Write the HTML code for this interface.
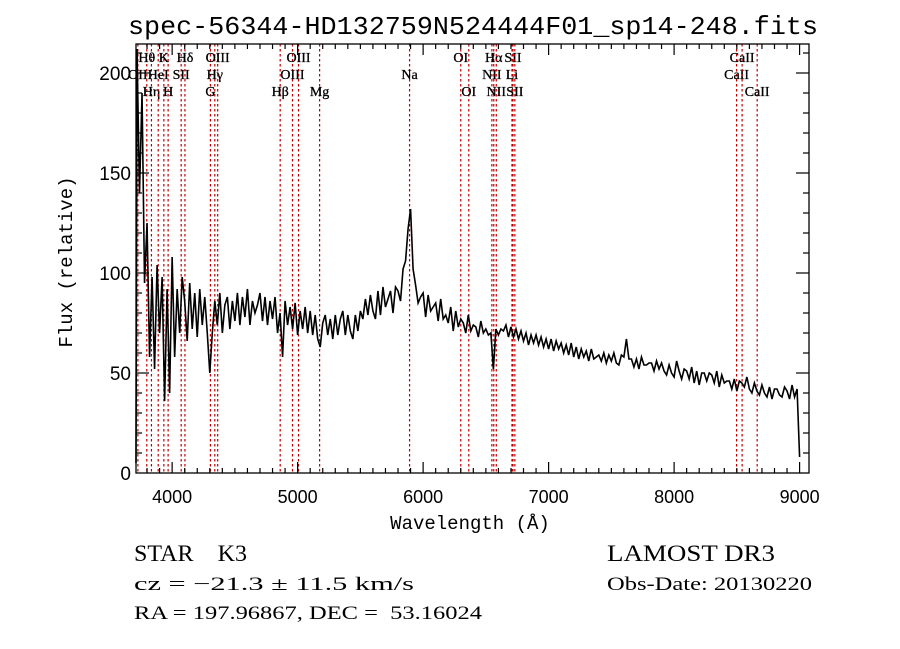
<!DOCTYPE html>
<html><head><meta charset="utf-8"><style>
html,body{margin:0;padding:0;background:#fff;}
svg{display:block;}
</style></head><body>
<svg id="chart" width="900" height="649" viewBox="0 0 900 649" xmlns="http://www.w3.org/2000/svg">
<rect width="900" height="649" fill="#fff"/>
<text x="128" y="34" font-family="Liberation Mono, monospace" font-size="26" textLength="690" lengthAdjust="spacingAndGlyphs">spec-56344-HD132759N524444F01_sp14-248.fits</text>
<g id="lines"></g>
<g id="series"></g>
<g id="axes"></g>
<text x="470" y="529" text-anchor="middle" font-family="Liberation Mono, monospace" font-size="19">Wavelength (Å)</text>
<text transform="translate(72,262) rotate(-90)" text-anchor="middle" font-family="Liberation Mono, monospace" font-size="19">Flux (relative)</text>
<text x="134" y="561" font-family="Liberation Serif, serif" font-size="23" textLength="113" lengthAdjust="spacingAndGlyphs" xml:space="preserve">STAR    K3</text>
<text x="134" y="590" font-family="Liberation Serif, serif" font-size="19" textLength="280" lengthAdjust="spacingAndGlyphs">cz = −21.3 ± 11.5 km/s</text>
<text x="134" y="619" font-family="Liberation Serif, serif" font-size="19" textLength="348" lengthAdjust="spacingAndGlyphs" xml:space="preserve">RA = 197.96867, DEC =  53.16024</text>
<text x="607" y="561" font-family="Liberation Serif, serif" font-size="23" textLength="168" lengthAdjust="spacingAndGlyphs">LAMOST DR3</text>
<text x="607" y="590" font-family="Liberation Serif, serif" font-size="19" textLength="205" lengthAdjust="spacingAndGlyphs">Obs-Date: 20130220</text>
</svg>
<script>
const wlStart = 3700;
const wlStep = 20;
const flux = [
5,212,140,190,95,125,58,98,52,104,
70,98,36,92,40,108,58,92,70,98,
86,66,95,72,90,68,92,74,88,70,
50,70,86,74,90,70,84,88,72,86,
76,90,74,88,78,92,74,86,80,84,
90,76,88,74,86,77,88,70,80,58,
86,74,83,72,85,69,81,72,83,70,
81,69,79,67,63,75,79,69,77,67,
79,69,77,81,69,79,71,67,79,71,
81,77,87,79,89,81,77,91,79,93,
83,87,91,80,93,91,86,102,106,122,
132,102,94,85,88,90,78,89,81,83,
85,76,87,77,79,75,83,71,81,73,
77,75,70,79,71,74,73,68,76,70,
72,69,70,52,72,69,72,71,74,68,
73,68,72,67,71,66,70,64,69,65,
69,64,68,63,67,62,67,61,66,62,
65,60,64,59,65,58,63,57,62,58,
61,56,62,57,58,59,56,60,55,59,
56,60,55,54,59,58,67,57,57,53,
57,52,58,54,54,55,55,51,56,52,
55,51,49,54,50,48,56,51,47,52,
51,47,53,45,51,44,50,50,46,50,
49,45,51,43,49,45,46,46,42,47,
41,46,45,43,48,42,40,45,41,39,
44,40,38,43,37,42,42,39,38,43,
41,37,44,38,42,8
];
const lineWaves = [3727,3798,3835,3889,3934,3968,4072,4102,4305,4340,4363,4861,4959,5007,5175,5892,6300,6364,6548,6563,6583,6708,6716,6731,8498,8542,8662];
const lineNames = ["OII","Hθ","Hη","HeI","K","H","SII","Hδ","G","Hγ","OIII","Hβ","OIII","OIII","Mg","Na","OI","OI","NII","Hα","NII","Li","SII","SII","CaII","CaII","CaII"];
const lineRows = [2,1,3,2,1,3,2,1,3,2,1,3,2,1,3,2,1,3,2,1,3,2,1,3,2,1,3];
const xTicks = [4000,5000,6000,7000,8000,9000];
const yTicks = [0,50,100,150,200];

const NS = "http://www.w3.org/2000/svg";
const L = 136, R = 809, T = 44, B = 473;
const xMin = 3712, xMax = 9075, yMin = 0, yMax = 214.5;
function xs(w){ return L + (w - xMin) / (xMax - xMin) * (R - L); }
function ys(v){ return B - (v - yMin) / (yMax - yMin) * (B - T); }
function mk(tag, attrs, parent){
  const e = document.createElementNS(NS, tag);
  for (const k in attrs) e.setAttribute(k, attrs[k]);
  parent.appendChild(e); return e;
}
const gL = document.getElementById('lines');
const gS = document.getElementById('series');
const gA = document.getElementById('axes');

const rowY = {1:62, 2:79, 3:96};
lineWaves.forEach((w, i) => {
  const x = xs(w);
  const ln = mk('line', {x1:x, x2:x, y1:T, y2:B, stroke:'#c00000', 'stroke-width':1.2, 'stroke-dasharray':'2.5,2.5'}, gL);
  
  
  const t = mk('text', {x:x, y:rowY[lineRows[i]], 'text-anchor':'middle', 'font-family':'Liberation Serif, serif', 'font-size':14, 'stroke':'#000', 'stroke-width':0.3}, gL);
  t.textContent = lineNames[i];
  
  
});

let d = '';
flux.forEach((f, i) => {
  const w = wlStart + i * wlStep;
  const x = Math.max(L, xs(w)), y = Math.max(T, ys(f));
  d += (i ? 'L' : 'M') + x.toFixed(2) + ',' + y.toFixed(2);
});
const p = mk('path', {d:d, fill:'none', stroke:'#000', 'stroke-width':1.6, 'stroke-linejoin':'miter'}, gS);



const fr = mk('rect', {x:L, y:T, width:R-L, height:B-T, fill:'none', stroke:'#000', 'stroke-width':1.3}, gA);



for (let w = 3800; w <= xMax; w += 100) {
  const x = xs(w), major = (w % 1000 === 0), len = major ? 11 : 5;
  mk('line', {x1:x, x2:x, y1:B, y2:B-len, stroke:'#000', 'stroke-width':1.2}, gA);
  mk('line', {x1:x, x2:x, y1:T, y2:T+len, stroke:'#000', 'stroke-width':1.2}, gA);
}
xTicks.forEach(w => {
  const t = mk('text', {x:xs(w), y:503, 'text-anchor':'middle', 'font-family':'Liberation Sans, sans-serif', 'font-size':18}, gA);
  t.textContent = w;
  
  
});
for (let v = 10; v <= yMax; v += 10) {
  const y = ys(v), major = (v % 50 === 0), len = major ? 13 : 6;
  mk('line', {x1:L, x2:L+len, y1:y, y2:y, stroke:'#000', 'stroke-width':1.2}, gA);
  mk('line', {x1:R, x2:R-len, y1:y, y2:y, stroke:'#000', 'stroke-width':1.2}, gA);
}
yTicks.forEach(v => {
  const t = mk('text', {x:131, y:ys(v)+7, 'text-anchor':'end', 'font-family':'Liberation Sans, sans-serif', 'font-size':19}, gA);
  t.textContent = v;
  
  
});
</script>
</body></html>
